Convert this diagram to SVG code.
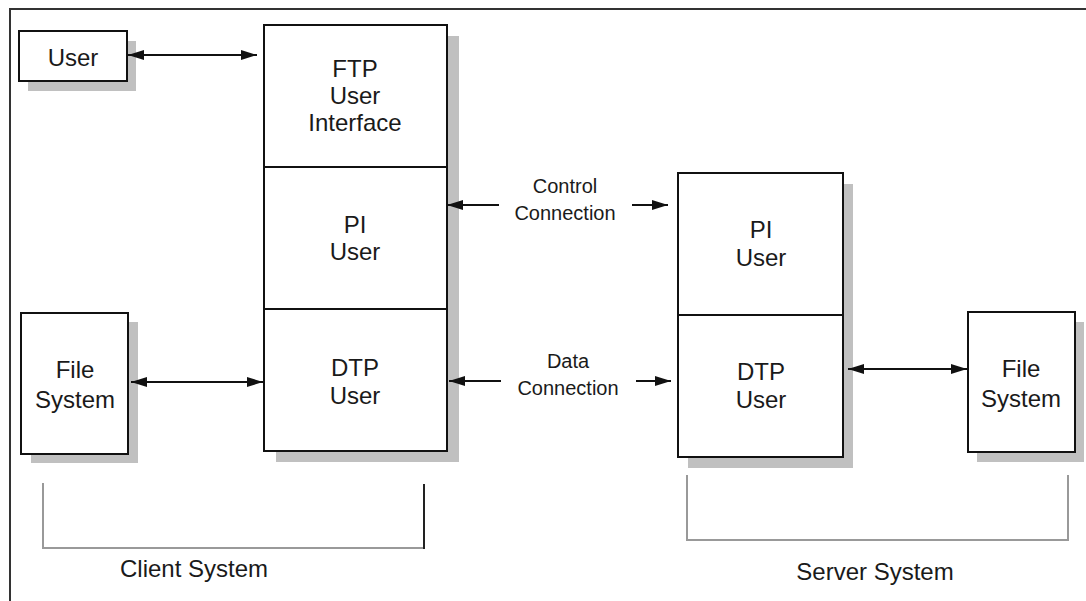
<svg xmlns="http://www.w3.org/2000/svg" width="1086" height="601" viewBox="0 0 1086 601">
<style>
.box{fill:#fff;stroke:#111;stroke-width:2}
.shadow{fill:#c0c0c0}
.div{stroke:#111;stroke-width:2}
.t{font-family:"Liberation Sans",Arial,sans-serif;font-size:24px;fill:#1a1a1a;text-anchor:middle}
.s{font-family:"Liberation Sans",Arial,sans-serif;font-size:20px;fill:#1a1a1a;text-anchor:middle}
.conn{stroke:#111;stroke-width:2;fill:none}
.bracket{stroke:#999;stroke-width:2;fill:none}
</style>
<defs>
<marker id="ah" viewBox="0 0 16 10" refX="16" refY="5" markerWidth="16" markerHeight="10" markerUnits="userSpaceOnUse" orient="auto-start-reverse">
<path d="M0,0 L16,5 L0,10 z" fill="#111"/>
</marker>
</defs>
<rect width="1086" height="601" fill="#fff"/>
<path d="M10,601 V9 H1086" fill="none" stroke="#333" stroke-width="2"/>

<g id="user">
<rect class="shadow" x="28" y="41" width="108" height="50"/>
<rect class="box" x="19" y="31" width="108" height="50"/>
<text class="t" x="73" y="66">User</text>
</g>

<g id="client-stack">
<rect class="shadow" x="276" y="36" width="183" height="426"/>
<rect class="box" x="264" y="25" width="183" height="426"/>
<line class="div" x1="264" y1="167" x2="447" y2="167"/>
<line class="div" x1="264" y1="309" x2="447" y2="309"/>
</g>
<g id="ftp-user-interface">
<text class="t" x="355" y="77">FTP</text>
<text class="t" x="355" y="104">User</text>
<text class="t" x="355" y="131">Interface</text>
</g>
<g id="client-pi-user">
<text class="t" x="355" y="233">PI</text>
<text class="t" x="355" y="260">User</text>
</g>
<g id="client-dtp-user">
<text class="t" x="355" y="376">DTP</text>
<text class="t" x="355" y="404">User</text>
</g>

<g id="client-file-system">
<rect class="shadow" x="31" y="322" width="107" height="141"/>
<rect class="box" x="21" y="313" width="107" height="141"/>
<text class="t" x="75" y="378">File</text>
<text class="t" x="75" y="408">System</text>
</g>

<g id="server-stack">
<rect class="shadow" x="688" y="184" width="165" height="284"/>
<rect class="box" x="678" y="173" width="165" height="284"/>
<line class="div" x1="678" y1="315" x2="843" y2="315"/>
</g>
<g id="server-pi-user">
<text class="t" x="761" y="238">PI</text>
<text class="t" x="761" y="266">User</text>
</g>
<g id="server-dtp-user">
<text class="t" x="761" y="380">DTP</text>
<text class="t" x="761" y="408">User</text>
</g>

<g id="server-file-system">
<rect class="shadow" x="977" y="322" width="107" height="140"/>
<rect class="box" x="968" y="312" width="107" height="140"/>
<text class="t" x="1021" y="377">File</text>
<text class="t" x="1021" y="407">System</text>
</g>

<g id="connectors">
<line class="conn" x1="128" y1="55" x2="257" y2="55" marker-start="url(#ah)" marker-end="url(#ah)"/>
<line class="conn" x1="131" y1="382" x2="263" y2="382" marker-start="url(#ah)" marker-end="url(#ah)"/>
<line class="conn" x1="499" y1="205" x2="447" y2="205" marker-end="url(#ah)"/>
<line class="conn" x1="632" y1="205" x2="668" y2="205" marker-end="url(#ah)"/>
<line class="conn" x1="501" y1="381" x2="449" y2="381" marker-end="url(#ah)"/>
<line class="conn" x1="636" y1="381" x2="671" y2="381" marker-end="url(#ah)"/>
<line class="conn" x1="848" y1="369" x2="967" y2="369" marker-start="url(#ah)" marker-end="url(#ah)"/>
</g>

<g id="control-connection-label">
<text class="s" x="565" y="193">Control</text>
<text class="s" x="565" y="220">Connection</text>
</g>
<g id="data-connection-label">
<text class="s" x="568" y="368">Data</text>
<text class="s" x="568" y="395">Connection</text>
</g>

<g id="client-system">
<path class="bracket" d="M43,483 V548 H424"/>
<line x1="424" y1="484" x2="424" y2="549" stroke="#222" stroke-width="2"/>
<text class="t" x="194" y="577">Client System</text>
</g>
<g id="server-system">
<path class="bracket" d="M687,475 V540 H1068 V475"/>
<text class="t" x="875" y="580">Server System</text>
</g>
</svg>
